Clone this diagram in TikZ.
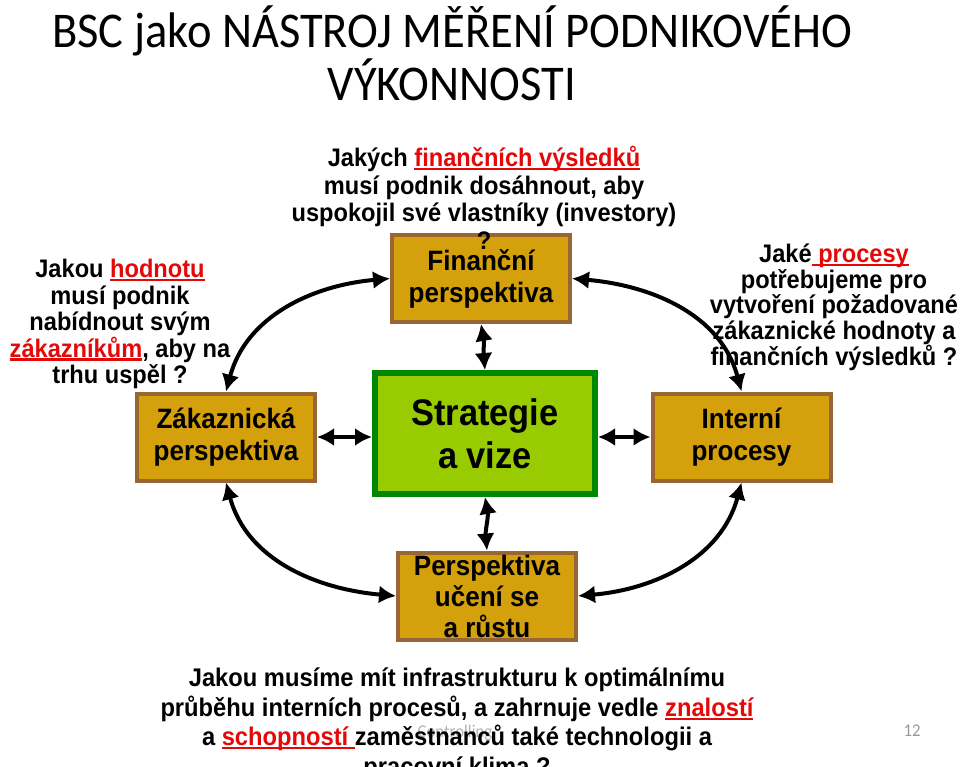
\documentclass[tikz,border=0pt]{standalone}
\usepackage{fontspec}
\setmainfont{Liberation Sans}[FakeStretch=0.93]
\newfontfamily\titlefont{Carlito}[FakeStretch=0.93]
\usepackage{tikz}
\usetikzlibrary{arrows.meta}
\definecolor{boxgold}{RGB}{212,160,12}
\definecolor{boxbrown}{RGB}{153,102,51}
\definecolor{stratgreen}{RGB}{0,136,0}
\definecolor{stratfill}{RGB}{153,204,0}
\definecolor{hilite}{RGB}{228,8,8}
\definecolor{footgray}{RGB}{180,180,180}
\newsavebox{\ulbox}
\newcommand{\redul}[1]{\textcolor{hilite}{\sbox{\ulbox}{#1}\rlap{\rule[-3.5pt]{\wd\ulbox}{2.4pt}}\usebox{\ulbox}}}

\begin{document}
\begin{tikzpicture}[x=1pt, y=1pt,
			>={Latex[length=17pt,width=18pt]},   %Pfeilspitzen
			persp/.style={draw=boxbrown, fill=boxgold, line width=4pt, minimum width=178pt, minimum height=87pt, inner sep=2pt, align=center, font=\fontsize{28}{32}\selectfont\bfseries},
			question/.style={align=center, inner sep=0pt, anchor=north, font=\fontsize{25.4}{#1}\selectfont\bfseries},
			link/.style={<->, line width=4pt}]
			%Bildbereich
			\useasboundingbox (0,0) rectangle (960,-767);
			% Titel
			\node[font=\titlefont\fontsize{50}{53}\selectfont, align=center, inner sep=0pt, anchor=north] (title) at (452,-6) {BSC jako NÁSTROJ MĚŘENÍ PODNIKOVÉHO\\VÝKONNOSTI};
			% Perspektiven
			\node[persp] (fin) at (481,-278.5) {Finanční\\perspektiva};
			\node[persp] (cust) at (226,-437) {Zákaznická\\perspektiva};
			\node[persp] (int) at (741.5,-437) {Interní\\procesy};
			\node[persp, inner sep=0pt, font=\fontsize{28}{31}\selectfont\bfseries] (learn) at (487,-596) {Perspektiva\\učení se\\a růstu};
			\node[draw=stratgreen, fill=stratfill, line width=6pt, minimum width=220pt, minimum height=121pt, align=center, font=\fontsize{37}{43}\selectfont\bfseries] (strat) at (485,-433.5) {Strategie\\a vize};
			% Fusszeile
			\node[font=\titlefont\fontsize{18}{18}\selectfont, text=footgray] (footer) at (455,-733) {Controlling};
			\node[font=\titlefont\fontsize{18}{18}\selectfont, text=footgray!85!black] (pageno) at (912,-731) {12};
			% Fragen
			\node[question=27.5] (finq) at (484,-146) {Jakých \redul{finančních výsledků}\\musí podnik dosáhnout, aby\\uspokojil své vlastníky (investory)\\?};
			\node[question=26.5] (custq) at (120,-259) {Jakou \redul{hodnotu}\\musí podnik\\nabídnout svým\\\redul{zákazníkům}, aby na\\trhu uspěl ?};
			\node[question=25.5] (intq) at (834,-244) {Jaké\redul{~procesy}\\potřebujeme pro\\vytvoření požadované\\zákaznické hodnoty a\\finančních výsledků ?};
			\node[question=29.5, font=\fontsize{25.5}{29.5}\selectfont\bfseries] (learnq) at (457,-668) {Jakou musíme mít infrastrukturu k optimálnímu\\průběhu interních procesů, a zahrnuje vedle \redul{znalostí}\\a \redul{schopností~}zaměstnanců také technologii a\\pracovní klima ?};
			% Pfeile
			\draw[link] (cust.east) -- (cust.east -| strat.west);
			\draw[link] (int.west -| strat.east) -- (int.west);
			\draw[link] (fin.south) to[out=-80, in=95] (strat.north);
			\draw[link] (strat.south) to[out=-80, in=95] (learn.north);
			\draw[link] (cust.north) to[out=75, in=185] (fin.west);
			\draw[link] (fin.east) to[out=-5, in=105] (int.north);
			\draw[link] (cust.south) to[out=-75, in=175] (learn.west);
			\draw[link] (int.south) to[out=-105, in=5] (learn.east);
		\end{tikzpicture}
\end{document}
